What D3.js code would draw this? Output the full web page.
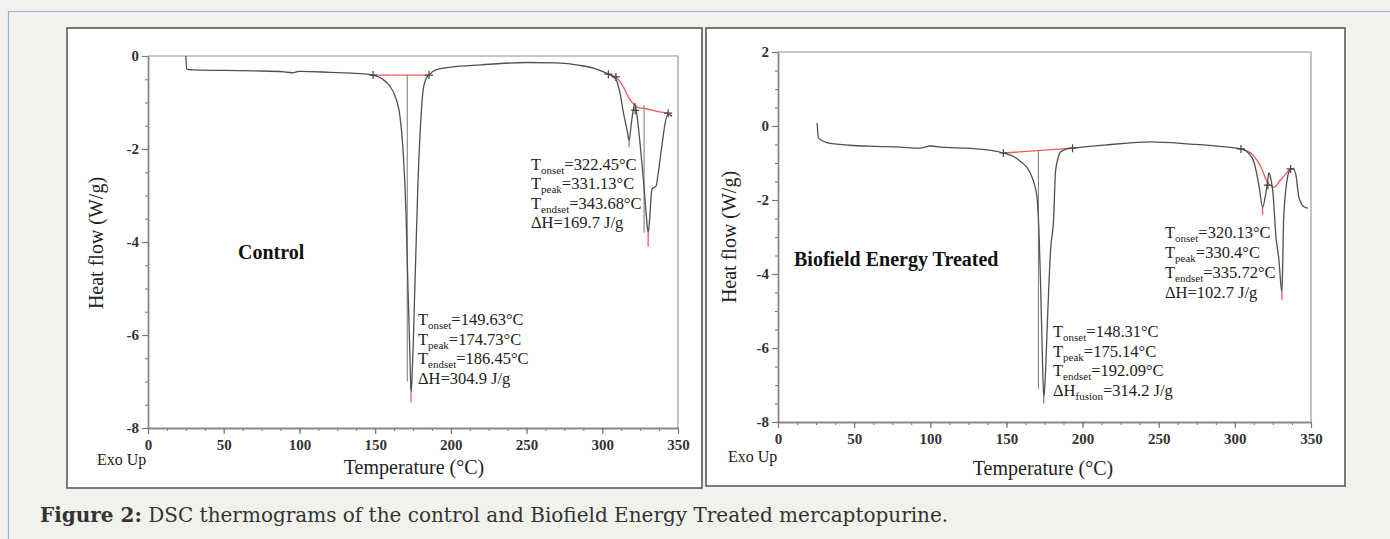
<!DOCTYPE html>
<html><head><meta charset="utf-8">
<script src="https://cdn.jsdelivr.net/npm/d3@7"></script>
<style>body{margin:0;background:#f2f2ed;overflow:hidden}</style>
</head><body><svg id="c" width="1390" height="539"></svg>
<script>
// ---------- data ----------
const tempTicks = [0, 50, 100, 150, 200, 250, 300, 350];
const controlYTicks = [-8, -6, -4, -2, 0];
const treatedYTicks = [-8, -6, -4, -2, 0, 2];

const controlT  = [25,25.5,30,50,70,90,95,100,120,140,148.6,155,159.8,163,166.4,168.4,170.4,171.7,173,173.7,174.5,176.3,178.3,180.3,181.6,183.5,185.6,190,200,220,250,270,285,295,304,309,311.7,314,316.4,317.7,319,320.5,321.5,323,325,327,329,330.3,331.3,332.3,333,335.5,337,339.5,341.5,343.5,346];
const controlHF = [0,-0.28,-0.3,-0.31,-0.32,-0.34,-0.36,-0.33,-0.35,-0.38,-0.41,-0.5,-0.65,-0.85,-1.3,-2.0,-3.4,-5.0,-6.5,-7.25,-6.8,-4.9,-2.7,-1.3,-0.75,-0.5,-0.41,-0.3,-0.24,-0.19,-0.14,-0.15,-0.2,-0.27,-0.39,-0.5,-0.8,-1.23,-1.6,-1.82,-1.5,-1.15,-1.02,-1.3,-1.9,-2.6,-3.4,-3.8,-3.5,-3.0,-2.85,-2.8,-2.5,-1.9,-1.45,-1.25,-1.3];

const treatedT  = [25.7,26,26.5,32,47,65,80,93,100,110,124,140,148,155,159,163,166,168.5,170,171,172.4,173.5,174.5,175.5,177,179,181,182.2,184,185.5,190,193.4,216,245,271,290,304,309.5,312.7,316,318.2,320,321,322.4,323.5,325,327,328.9,330.9,331.5,332,334.6,336.6,338,340,342,345.5,348];
const treatedHF = [0.08,-0.1,-0.32,-0.45,-0.52,-0.55,-0.57,-0.6,-0.54,-0.58,-0.6,-0.66,-0.73,-0.83,-0.95,-1.1,-1.3,-1.6,-1.9,-2.5,-4.25,-6.05,-7.35,-6.8,-5.2,-3.35,-2.5,-1.25,-0.85,-0.7,-0.62,-0.6,-0.51,-0.43,-0.49,-0.55,-0.62,-0.75,-1.0,-1.65,-2.2,-1.9,-1.65,-1.27,-1.4,-1.8,-3.0,-3.6,-4.5,-3.6,-2.54,-1.38,-1.16,-1.15,-1.3,-1.92,-2.19,-2.22];

const controlBase1T = [148.6, 185.6];
const controlBase1HF = [-0.41, -0.41];
const controlBase2T = [304,309,314,317.5,320,323,329.6,336,343.5];
const controlBase2HF = [-0.39,-0.45,-0.67,-0.9,-1.01,-1.1,-1.14,-1.19,-1.23];
const treatedBase1T = [148, 193.4];
const treatedBase1HF = [-0.73, -0.6];
const treatedBase2T = [304,310.5,317,321.7,325.7,330,335.5];
const treatedBase2HF = [-0.62,-0.73,-1.1,-1.54,-1.65,-1.46,-1.19];

// peak tips: [T, curve value, red tip value]
const controlPeakTips = [[173.7,-7.25,-7.45],[317.7,-1.82,-1.96],[330.3,-3.8,-4.1]];
const treatedPeakTips = [[174.5,-7.35,-7.5],[318.2,-2.2,-2.4],[330.9,-4.5,-4.7]];
// vertical peak lines: [T, from, to]
const controlPeakLines = [[171.2,-0.41,-7.0],[327.6,-1.05,-3.8]];
const treatedPeakLines = [[171.0,-0.66,-7.1]];
// onset/endset markers
const controlMarkers = [[148.6,-0.41],[185.6,-0.41],[304,-0.39],[309,-0.45],[321.7,-1.17],[343.5,-1.23]];
const treatedMarkers = [[148,-0.73],[193.4,-0.6],[304,-0.62],[321.7,-1.6],[336.6,-1.16]];

const controlAnnoMain = [["T","onset","=149.63°C"],["T","peak","=174.73°C"],["T","endset","=186.45°C"],["ΔH","","=304.9 J/g"]];
const controlAnnoHigh = [["T","onset","=322.45°C"],["T","peak","=331.13°C"],["T","endset","=343.68°C"],["ΔH","","=169.7 J/g"]];
const treatedAnnoMain = [["T","onset","=148.31°C"],["T","peak","=175.14°C"],["T","endset","=192.09°C"],["ΔH","fusion","=314.2 J/g"]];
const treatedAnnoHigh = [["T","onset","=320.13°C"],["T","peak","=330.4°C"],["T","endset","=335.72°C"],["ΔH","","=102.7 J/g"]];

// ---------- drawing ----------
const svg = d3.select("#c");
const serif = "'Liberation Serif','Times New Roman',serif";

svg.append("rect").attr("width",1390).attr("height",539).attr("fill","#f2f2ed");
svg.append("path").attr("d","M8.5,539 V11.5 H1390").attr("fill","none").attr("stroke","#8fb4e3").attr("stroke-width",1.2);

function zip(a,b){ return a.map((t,i)=>[t,b[i]]); }

function panel(o){
  const g = svg.append("g");
  g.append("rect").attr("x",o.frame[0]).attr("y",o.frame[1]).attr("width",o.frame[2]).attr("height",o.frame[3])
    .attr("fill","#fff").attr("stroke","#5a5a5a").attr("stroke-width",1.6);
  const x = d3.scaleLinear().domain([0,350]).range([o.x0,o.x1]);
  const y = d3.scaleLinear().domain(o.yDomain).range([o.y0,o.y1]);
  g.append("path").attr("d",`M${o.x0},${o.y1} H${o.x1} V${o.y0}`).attr("fill","none").attr("stroke","#b5b5b5").attr("stroke-width",1.6);
  const yMinor = d3.range(o.yDomain[0], o.yDomain[1]+0.001, 0.5);
  const xMinor = d3.range(0, 350.001, 12.5);
  g.append("g").attr("transform",`translate(${o.x0},0)`).call(d3.axisLeft(y).tickValues(yMinor).tickSize(3).tickFormat(""))
    .call(s=>{s.select(".domain").remove(); s.selectAll("line").attr("stroke","#777");});
  g.append("g").attr("transform",`translate(0,${o.y0})`).call(d3.axisBottom(x).tickValues(xMinor).tickSize(3).tickFormat(""))
    .call(s=>{s.select(".domain").remove(); s.selectAll("line").attr("stroke","#777");});
  const fmt = d => String(d);
  const ya = g.append("g").attr("transform",`translate(${o.x0},0)`).call(d3.axisLeft(y).tickValues(o.yTicks).tickFormat(fmt).tickSize(6).tickPadding(3).tickSizeOuter(0));
  const xa = g.append("g").attr("transform",`translate(0,${o.y0})`).call(d3.axisBottom(x).tickValues(tempTicks).tickFormat(fmt).tickSize(6).tickPadding(5).tickSizeOuter(0));
  [ya,xa].forEach(a=>{
    a.select(".domain").attr("stroke","#888").attr("stroke-width",1.8);
    a.selectAll(".tick line").attr("stroke","#777").attr("stroke-width",1.2);
    a.selectAll(".tick text").attr("font-family",serif).attr("font-size",15).attr("fill","#333").attr("font-weight","bold");
  });
  g.append("text").attr("x",o.exo[0]).attr("y",o.exo[1]).attr("font-family",serif).attr("font-size",16).attr("fill","#222").text("Exo Up");
  g.append("text").attr("x",o.xt[0]).attr("y",o.xt[1]).attr("text-anchor","middle").attr("font-family",serif).attr("font-size",20).attr("fill","#222").text("Temperature (°C)");
  g.append("text").attr("transform",`translate(${o.yt[0]},${o.yt[1]}) rotate(-90)`).attr("text-anchor","middle").attr("font-family",serif).attr("font-size",20).attr("fill","#222").text("Heat flow (W/g)");
  g.append("text").attr("x",o.title[0]).attr("y",o.title[1]).attr("font-family",serif).attr("font-size",20).attr("font-weight","bold").attr("fill","#111").text(o.titleText);

  const smooth = d3.line().x(d=>x(d[0])).y(d=>y(d[1])).curve(d3.curveMonotoneX);
  o.bases.forEach(b=>{
    g.append("path").attr("d",smooth(b)).attr("fill","none").attr("stroke","#f25a5a").attr("stroke-width",1.3);
  });
  o.peakLines.forEach(p=>{
    g.append("line").attr("x1",x(p[0])).attr("x2",x(p[0])).attr("y1",y(p[1])).attr("y2",y(p[2])).attr("stroke","#777").attr("stroke-width",1);
  });
  o.tips.forEach(p=>{
    g.append("line").attr("x1",x(p[0])).attr("x2",x(p[0])).attr("y1",y(p[1])).attr("y2",y(p[2])).attr("stroke","#f25a5a").attr("stroke-width",1.3);
  });
  g.append("path").attr("d",smooth(o.curve)).attr("fill","none").attr("stroke","#505050").attr("stroke-width",1.3);
  o.markers.forEach(m=>{
    const cx=x(m[0]), cy=y(m[1]);
    g.append("path").attr("d",`M${cx-4},${cy} H${cx+4} M${cx},${cy-4} V${cy+4}`).attr("stroke","#444").attr("stroke-width",1.2);
  });
  o.annos.forEach(a=>{
    a.lines.forEach((l,i)=>{
      const t = g.append("text").attr("x",a.x).attr("y",a.y+i*a.dy).attr("font-family",serif).attr("font-size",16.5).attr("fill","#222");
      t.append("tspan").text(l[0]);
      if(l[1]) t.append("tspan").attr("font-size",11).attr("dy",4).text(l[1]);
      t.append("tspan").attr("dy",l[1]?-4:0).text(l[2]);
    });
  });
}

panel({
  frame:[67,28,635,460], x0:148, x1:678, y0:428, y1:56, yDomain:[-8,0], yTicks:controlYTicks,
  exo:[97,465], xt:[414,474], yt:[103,243], title:[238,259], titleText:"Control",
  curve:zip(controlT,controlHF), bases:[zip(controlBase1T,controlBase1HF),zip(controlBase2T,controlBase2HF)],
  tips:controlPeakTips, peakLines:controlPeakLines, markers:controlMarkers,
  annos:[{x:418,y:325,dy:19.5,lines:controlAnnoMain},{x:531,y:170,dy:19.3,lines:controlAnnoHigh}]
});
panel({
  frame:[706,28,639,458], x0:778, x1:1311, y0:422, y1:52, yDomain:[-8,2], yTicks:treatedYTicks,
  exo:[728,462], xt:[1043,475], yt:[736,237], title:[794,266], titleText:"Biofield Energy Treated",
  curve:zip(treatedT,treatedHF), bases:[zip(treatedBase1T,treatedBase1HF),zip(treatedBase2T,treatedBase2HF)],
  tips:treatedPeakTips, peakLines:treatedPeakLines, markers:treatedMarkers,
  annos:[{x:1053,y:337,dy:19.7,lines:treatedAnnoMain},{x:1165,y:238,dy:20,lines:treatedAnnoHigh}]
});

// caption
const cap = svg.append("text").attr("x",40).attr("y",522).attr("font-family","'DejaVu Serif',serif").attr("font-size",20).attr("fill","#333");
cap.append("tspan").attr("font-weight","bold").text("Figure 2:");
cap.append("tspan").text(" DSC thermograms of the control and Biofield Energy Treated mercaptopurine.");
</script></body></html>
